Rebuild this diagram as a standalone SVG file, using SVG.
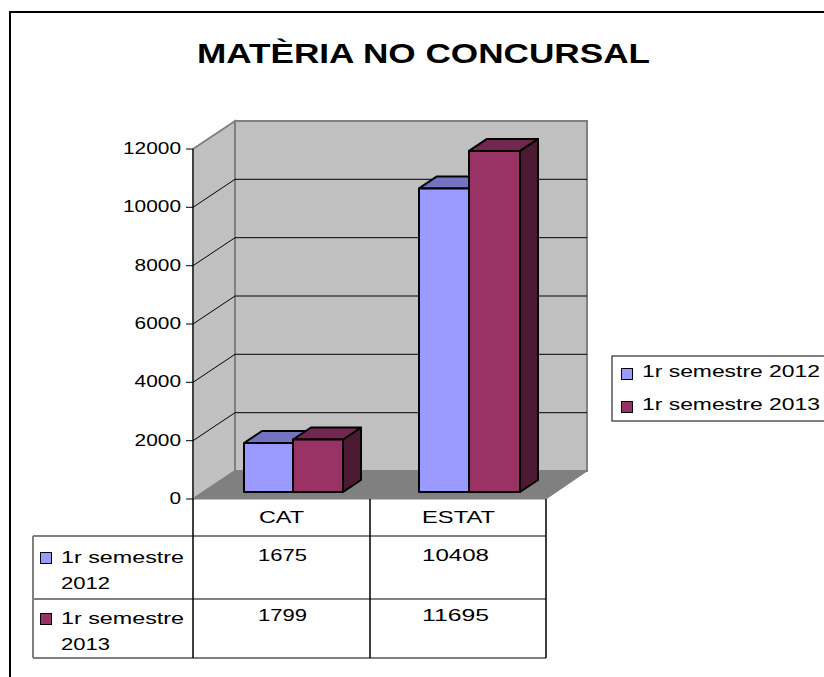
<svg xmlns="http://www.w3.org/2000/svg" width="824" height="677" viewBox="0 0 824 677">
<style>
text{font-family:"Liberation Sans",Arial,sans-serif;font-size:17px;fill:#000}
.ax{text-anchor:end}
.mid{text-anchor:middle}
.title{font-size:27px;font-weight:bold}
.grid{stroke:#000;stroke-width:1;fill:none}
.wall{fill:#C0C0C0;stroke:#808080;stroke-width:2}
.floor{fill:#808080;stroke:#808080;stroke-width:1}
.bar{stroke:#000;stroke-width:2;stroke-linejoin:round}
.bf{fill:#9999FF}.bt{fill:#7373BF}.bs{fill:#4D4D80}
.mf{fill:#993366}.mt{fill:#732650}.ms{fill:#4D1A33}
.tl{stroke:#808080;stroke-width:2;fill:none}
.tv{stroke:#000;stroke-width:1.5;fill:none}
</style>
<rect x="0" y="0" width="824" height="677" fill="#fff"/>
<rect x="10" y="12" width="830" height="680" fill="none" stroke="#000" stroke-width="2"/>
<g id="title"><text class="title" x="197" y="63" textLength="453" lengthAdjust="spacingAndGlyphs">MATÈRIA NO CONCURSAL</text></g>
<g id="plot">
<polygon class="wall" points="235,121 587,121 587,471 235,471"/>
<polygon class="wall" points="193,149 235,121 235,471 193,499"/>
<polygon class="floor" points="193,499 235,471 587,471 546,499"/>
<g class="grid">
<path d="M193,207.3 L235,179.3 H587 M193,265.7 L235,237.7 H587 M193,324 L235,296 H587 M193,382.3 L235,354.3 H587 M193,440.7 L235,412.7 H587"/>
<path d="M193,149 V499 M186,149 H193 M186,207.3 H193 M186,265.7 H193 M186,324 H193 M186,382.3 H193 M186,440.7 H193 M186,499 H193"/>
</g>
</g>
<g id="axis-labels">
<text class="ax" x="181" y="154" textLength="58" lengthAdjust="spacingAndGlyphs">12000</text>
<text class="ax" x="181" y="212.3" textLength="58" lengthAdjust="spacingAndGlyphs">10000</text>
<text class="ax" x="181" y="270.7" textLength="46.4" lengthAdjust="spacingAndGlyphs">8000</text>
<text class="ax" x="181" y="329" textLength="46.4" lengthAdjust="spacingAndGlyphs">6000</text>
<text class="ax" x="181" y="387.3" textLength="46.4" lengthAdjust="spacingAndGlyphs">4000</text>
<text class="ax" x="181" y="445.7" textLength="46.4" lengthAdjust="spacingAndGlyphs">2000</text>
<text class="ax" x="181" y="504" textLength="11.6" lengthAdjust="spacingAndGlyphs">0</text>
</g>
<g id="bar-cat-2012" class="bar">
<polygon class="bs" points="293,443 311,431 311,480 293,492"/>
<polygon class="bt" points="244,443 293,443 311,431 262,431"/>
<rect class="bf" x="244" y="443" width="49" height="49"/>
</g>
<g id="bar-cat-2013" class="bar">
<polygon class="ms" points="343,439.5 361,427.5 361,480 343,492"/>
<polygon class="mt" points="293,439.5 343,439.5 361,427.5 311,427.5"/>
<rect class="mf" x="293" y="439.5" width="50" height="52.5"/>
</g>
<g id="bar-estat-2012" class="bar">
<polygon class="bs" points="469,188.4 487,176.4 487,480 469,492"/>
<polygon class="bt" points="419,188.4 469,188.4 487,176.4 437,176.4"/>
<rect class="bf" x="419" y="188.4" width="50" height="303.6"/>
</g>
<g id="bar-estat-2013" class="bar">
<polygon class="ms" points="520,150.9 538,138.9 538,480 520,492"/>
<polygon class="mt" points="469,150.9 520,150.9 538,138.9 487,138.9"/>
<rect class="mf" x="469" y="150.9" width="51" height="341.1"/>
</g>
<g id="legend">
<rect x="612" y="356" width="230" height="65" fill="#fff" stroke="#000" stroke-width="1"/>
<rect x="621.5" y="368.5" width="11" height="11" fill="#9999FF" stroke="#000" stroke-width="1"/>
<text x="642" y="377" textLength="178" lengthAdjust="spacingAndGlyphs">1r semestre 2012</text>
<rect x="621.5" y="401.5" width="11" height="11" fill="#993366" stroke="#000" stroke-width="1"/>
<text x="642" y="410" textLength="178" lengthAdjust="spacingAndGlyphs">1r semestre 2013</text>
</g>
<g id="table">
<path class="tl" d="M193,536 H546 M33,536 H193 M33,599 H546 M33,658 H546 M33,536 V658"/>
<path class="tv" d="M193,499 V658 M370,499 V658 M546,499 V658"/>
<text x="259" y="523" textLength="45" lengthAdjust="spacingAndGlyphs">CAT</text>
<text x="422" y="523" textLength="73" lengthAdjust="spacingAndGlyphs">ESTAT</text>
<text x="258" y="561" textLength="49" lengthAdjust="spacingAndGlyphs">1675</text>
<text x="422" y="561" textLength="67" lengthAdjust="spacingAndGlyphs">10408</text>
<text x="258" y="621" textLength="49" lengthAdjust="spacingAndGlyphs">1799</text>
<text x="422" y="621" textLength="67" lengthAdjust="spacingAndGlyphs">11695</text>
<rect x="40.5" y="552.5" width="11" height="11" fill="#9999FF" stroke="#000" stroke-width="1"/>
<text x="61" y="563" textLength="123" lengthAdjust="spacingAndGlyphs">1r semestre</text>
<text x="61" y="589" textLength="49" lengthAdjust="spacingAndGlyphs">2012</text>
<rect x="40.5" y="613.5" width="11" height="11" fill="#993366" stroke="#000" stroke-width="1"/>
<text x="61" y="624" textLength="123" lengthAdjust="spacingAndGlyphs">1r semestre</text>
<text x="61" y="650" textLength="49" lengthAdjust="spacingAndGlyphs">2013</text>
</g>
</svg>
